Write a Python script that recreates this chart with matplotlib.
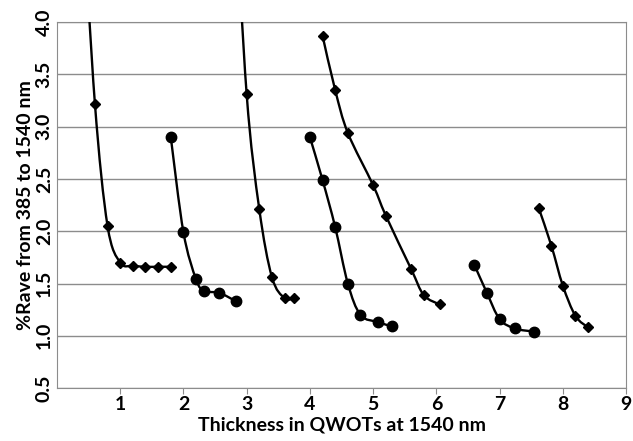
import matplotlib.pyplot as plt
from matplotlib.path import Path
from matplotlib.patches import PathPatch

plt.rcParams['font.family'] = ['Lato', 'DejaVu Sans']

# series (x in QWOTs, y in %Rave)
x1 = [0.40, 0.60, 0.80, 1.00, 1.20, 1.40, 1.60, 1.80]
y1 = [5.20, 3.22, 2.05, 1.70, 1.67, 1.66, 1.66, 1.66]
x2 = [1.80, 2.00, 2.20, 2.33, 2.57, 2.83]
y2 = [2.90, 1.99, 1.54, 1.43, 1.41, 1.33]
x3 = [2.80, 3.00, 3.20, 3.40, 3.60, 3.75]
y3 = [5.40, 3.31, 2.21, 1.56, 1.36, 1.36]
x4 = [4.00, 4.20, 4.40, 4.60, 4.80, 5.08, 5.30]
y4 = [2.90, 2.49, 2.04, 1.50, 1.20, 1.13, 1.09]
x5 = [4.20, 4.40, 4.60, 5.00, 5.20, 5.60, 5.80, 6.05]
y5 = [3.87, 3.35, 2.94, 2.44, 2.15, 1.64, 1.39, 1.30]
x6 = [6.60, 6.80, 7.00, 7.24, 7.55]
y6 = [1.68, 1.41, 1.16, 1.07, 1.04]
x7 = [7.62, 7.82, 8.00, 8.20, 8.40]
y7 = [2.22, 1.86, 1.48, 1.19, 1.08]

series = [(x1, y1, 'D', 5, True), (x2, y2, 'o', 7.5, False),
          (x3, y3, 'D', 5, True), (x4, y4, 'o', 7.5, False),
          (x5, y5, 'D', 5, False), (x6, y6, 'o', 7.5, False),
          (x7, y7, 'D', 5, False)]


def smooth_path(xs, ys, t=1/6):
    # bezier segments like a spreadsheet "smoothed line"
    verts = [(xs[0], ys[0])]
    codes = [Path.MOVETO]
    n = len(xs)
    for i in range(n - 1):
        x0, y0 = (xs[i-1], ys[i-1]) if i > 0 else (xs[i], ys[i])
        x3_, y3_ = (xs[i+2], ys[i+2]) if i + 2 < n else (xs[i+1], ys[i+1])
        c1 = (xs[i] + (xs[i+1] - x0) * t, ys[i] + (ys[i+1] - y0) * t)
        c2 = (xs[i+1] - (x3_ - xs[i]) * t, ys[i+1] - (y3_ - ys[i]) * t)
        verts += [c1, c2, (xs[i+1], ys[i+1])]
        codes += [Path.CURVE4] * 3
    return Path(verts, codes)


fig = plt.figure(figsize=(6.33, 4.41), dpi=100)
ax = fig.add_axes([0.090, 0.120, 0.899, 0.830])

for xs, ys, m, ms, skip_first in series:
    ax.add_patch(PathPatch(smooth_path(xs, ys), fill=False, ec='black', lw=1.7, zorder=3))
    px, py = (xs[1:], ys[1:]) if skip_first else (xs, ys)
    ax.plot(px, py, ls='none', marker=m, ms=ms, color='black', zorder=4)

ax.set_xlim(0, 9)
ax.set_ylim(0.5, 4.0)
ax.set_xticks(range(1, 10))
ax.set_yticks([0.5, 1.0, 1.5, 2.0, 2.5, 3.0, 3.5, 4.0])
ax.set_yticklabels(['0.5', '1.0', '1.5', '2.0', '2.5', '3.0', '3.5', '4.0'], rotation=90, va='center')
ax.yaxis.grid(True, color='#8c8c8c', lw=1)
ax.set_axisbelow(True)
for s in ax.spines.values():
    s.set_color('#8c8c8c')
ax.tick_params(axis='both', colors='#8c8c8c', labelcolor='black', labelsize=14, length=4)
ax.tick_params(axis='y', length=0, pad=3)
ax.tick_params(axis='x', pad=2)
for lab in ax.get_xticklabels() + ax.get_yticklabels():
    lab.set_fontweight('bold')
ax.set_xlabel('Thickness in QWOTs at 1540 nm', fontsize=14, fontweight='bold', labelpad=2)
ax.set_ylabel('%Rave from 385 to 1540 nm', fontsize=14, fontweight='bold', labelpad=1)

fig.savefig('out.png', dpi=100)
